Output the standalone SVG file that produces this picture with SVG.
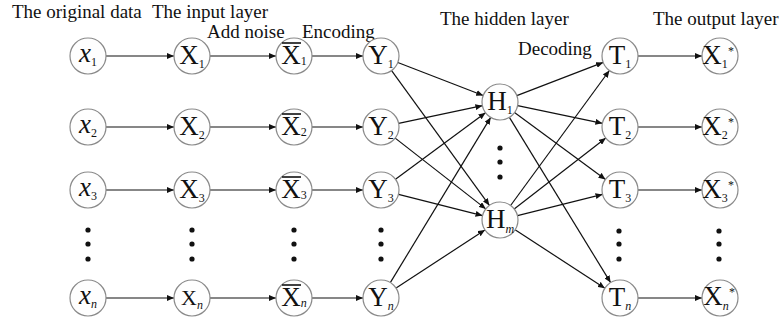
<svg xmlns="http://www.w3.org/2000/svg" width="780" height="326" viewBox="0 0 780 326">
<defs>
<marker id="ah" markerUnits="userSpaceOnUse" markerWidth="8" markerHeight="6" refX="7" refY="3" orient="auto">
<path d="M0,0 L7,3 L0,6 z" fill="#111"/>
</marker>
<style>
.n{fill:#fefefe;stroke:#8a8a8a;stroke-width:1.2}
.e{stroke:#111;stroke-width:1.2;fill:none;marker-end:url(#ah)}
.h{font-family:"Liberation Serif","Times New Roman",serif;font-size:19px;fill:#111}
.l{font-family:"Liberation Serif","Times New Roman",serif;font-size:27px;fill:#111;text-anchor:middle}
.i{font-style:italic}
.s{font-size:12px}
.d{fill:#111}
.ob{stroke:#111;stroke-width:1.6}
</style>
</defs>

<g id="headings">
<text class="h" x="12" y="18">The original data</text>
<text class="h" x="152" y="18">The input layer</text>
<text class="h" x="207" y="38">Add noise</text>
<text class="h" x="302" y="38">Encoding</text>
<text class="h" x="440" y="25">The hidden layer</text>
<text class="h" x="653" y="25">The output layer</text>
<text class="h" x="518" y="55">Decoding</text>
</g>

<g id="connectors">
<line class="e" x1="106" y1="56" x2="174" y2="56"/>
<line class="e" x1="210" y1="56" x2="276" y2="56"/>
<line class="e" x1="312" y1="56" x2="363" y2="56"/>
<line class="e" x1="638" y1="56" x2="702" y2="56"/>
<line class="e" x1="106" y1="127" x2="174" y2="127"/>
<line class="e" x1="210" y1="127" x2="276" y2="127"/>
<line class="e" x1="312" y1="127" x2="363" y2="127"/>
<line class="e" x1="638" y1="127" x2="702" y2="127"/>
<line class="e" x1="106" y1="190" x2="174" y2="190"/>
<line class="e" x1="210" y1="190" x2="276" y2="190"/>
<line class="e" x1="312" y1="190" x2="363" y2="190"/>
<line class="e" x1="638" y1="190" x2="702" y2="190"/>
<line class="e" x1="106" y1="298" x2="174" y2="298"/>
<line class="e" x1="210" y1="298" x2="276" y2="298"/>
<line class="e" x1="312" y1="298" x2="363" y2="298"/>
<line class="e" x1="638" y1="298" x2="702" y2="298"/>
<line class="e" x1="397.8" y1="62.5" x2="483.2" y2="95.5"/>
<line class="e" x1="391.6" y1="70.6" x2="489.4" y2="205.4"/>
<line class="e" x1="398.6" y1="123.3" x2="482.4" y2="105.7"/>
<line class="e" x1="395.2" y1="138.1" x2="485.8" y2="208.9"/>
<line class="e" x1="395.5" y1="179.3" x2="485.5" y2="112.7"/>
<line class="e" x1="398.5" y1="194.4" x2="482.5" y2="215.6"/>
<line class="e" x1="390.3" y1="282.6" x2="490.7" y2="117.4"/>
<line class="e" x1="396.1" y1="288.1" x2="484.9" y2="229.9"/>
<line class="e" x1="516.8" y1="95.6" x2="603.2" y2="62.4"/>
<line class="e" x1="517.6" y1="105.7" x2="602.4" y2="123.3"/>
<line class="e" x1="514.5" y1="112.6" x2="605.5" y2="179.4"/>
<line class="e" x1="509.4" y1="117.4" x2="610.6" y2="282.6"/>
<line class="e" x1="510.6" y1="205.5" x2="609.4" y2="70.5"/>
<line class="e" x1="514.2" y1="209.0" x2="605.8" y2="138.0"/>
<line class="e" x1="517.5" y1="215.6" x2="602.5" y2="194.4"/>
<line class="e" x1="515.1" y1="229.8" x2="604.9" y2="288.2"/>
</g>

<g id="dots">
<circle class="d" cx="88" cy="230" r="2.6"/><circle class="d" cx="88" cy="244" r="2.6"/><circle class="d" cx="88" cy="259" r="2.6"/>
<circle class="d" cx="192" cy="230" r="2.6"/><circle class="d" cx="192" cy="244" r="2.6"/><circle class="d" cx="192" cy="259" r="2.6"/>
<circle class="d" cx="294" cy="230" r="2.6"/><circle class="d" cx="294" cy="244" r="2.6"/><circle class="d" cx="294" cy="259" r="2.6"/>
<circle class="d" cx="381" cy="230" r="2.6"/><circle class="d" cx="381" cy="244" r="2.6"/><circle class="d" cx="381" cy="259" r="2.6"/>
<circle class="d" cx="500" cy="148" r="2.6"/><circle class="d" cx="500" cy="162" r="2.6"/><circle class="d" cx="500" cy="177" r="2.6"/>
<circle class="d" cx="619" cy="231" r="2.6"/><circle class="d" cx="619" cy="244" r="2.6"/><circle class="d" cx="619" cy="259" r="2.6"/>
<circle class="d" cx="719" cy="231" r="2.6"/><circle class="d" cx="719" cy="244" r="2.6"/><circle class="d" cx="719" cy="259" r="2.6"/>
</g>

<g id="x1"><circle class="n" cx="88" cy="56" r="18"/><text class="l" x="88" y="62"><tspan class="i">x</tspan><tspan class="s" dy="4">1</tspan></text></g>
<g id="x2"><circle class="n" cx="88" cy="127" r="18"/><text class="l" x="88" y="133"><tspan class="i">x</tspan><tspan class="s" dy="4">2</tspan></text></g>
<g id="x3"><circle class="n" cx="88" cy="190" r="18"/><text class="l" x="88" y="196"><tspan class="i">x</tspan><tspan class="s" dy="4">3</tspan></text></g>
<g id="xn"><circle class="n" cx="88" cy="298" r="18"/><text class="l" x="88" y="304"><tspan class="i">x</tspan><tspan class="s i" dy="4">n</tspan></text></g>

<g id="X1"><circle class="n" cx="192" cy="56" r="18"/><text class="l" x="192" y="64">X<tspan class="s" dy="4">1</tspan></text></g>
<g id="X2"><circle class="n" cx="192" cy="127" r="18"/><text class="l" x="192" y="135">X<tspan class="s" dy="4">2</tspan></text></g>
<g id="X3"><circle class="n" cx="192" cy="190" r="18"/><text class="l" x="192" y="198">X<tspan class="s" dy="4">3</tspan></text></g>
<g id="Xn"><circle class="n" cx="192" cy="298" r="18"/><text class="l" x="192" y="305" style="font-size:22px">X<tspan class="s i" dy="4">n</tspan></text></g>

<g id="Xb1"><circle class="n" cx="294" cy="56" r="18"/><line class="ob" x1="282" y1="43" x2="301" y2="43"/><text class="l" x="294" y="64">X<tspan class="s" dy="1">1</tspan></text></g>
<g id="Xb2"><circle class="n" cx="294" cy="127" r="18"/><line class="ob" x1="282" y1="114" x2="301" y2="114"/><text class="l" x="294" y="135">X<tspan class="s" dy="1">2</tspan></text></g>
<g id="Xb3"><circle class="n" cx="294" cy="190" r="18"/><line class="ob" x1="282" y1="177" x2="301" y2="177"/><text class="l" x="294" y="198">X<tspan class="s" dy="1">3</tspan></text></g>
<g id="Xbn"><circle class="n" cx="294" cy="298" r="18"/><line class="ob" x1="282" y1="285" x2="301" y2="285"/><text class="l" x="294" y="306">X<tspan class="s i" dy="1">n</tspan></text></g>

<g id="Y1"><circle class="n" cx="381" cy="56" r="18"/><text class="l" x="381" y="64">Y<tspan class="s" dy="4">1</tspan></text></g>
<g id="Y2"><circle class="n" cx="381" cy="127" r="18"/><text class="l" x="381" y="135">Y<tspan class="s" dy="4">2</tspan></text></g>
<g id="Y3"><circle class="n" cx="381" cy="190" r="18"/><text class="l" x="381" y="198">Y<tspan class="s" dy="4">3</tspan></text></g>
<g id="Yn"><circle class="n" cx="381" cy="298" r="18"/><text class="l" x="381" y="306">Y<tspan class="s i" dy="4">n</tspan></text></g>

<g id="H1"><circle class="n" cx="500" cy="102" r="18"/><text class="l" x="500" y="110">H<tspan class="s" dy="4">1</tspan></text></g>
<g id="Hm"><circle class="n" cx="500" cy="220" r="18"/><text class="l" x="500" y="228">H<tspan class="s i" dy="5">m</tspan></text></g>

<g id="T1"><circle class="n" cx="620" cy="56" r="18"/><text class="l" x="620" y="64">T<tspan class="s" dy="4">1</tspan></text></g>
<g id="T2"><circle class="n" cx="620" cy="127" r="18"/><text class="l" x="620" y="135">T<tspan class="s" dy="4">2</tspan></text></g>
<g id="T3"><circle class="n" cx="620" cy="190" r="18"/><text class="l" x="620" y="198">T<tspan class="s" dy="4">3</tspan></text></g>
<g id="Tn"><circle class="n" cx="620" cy="298" r="18"/><text class="l" x="620" y="306">T<tspan class="s i" dy="4">n</tspan></text></g>

<g id="O1"><circle class="n" cx="720" cy="56" r="18"/><text class="l" x="715" y="64">X<tspan class="s" dy="4">1</tspan></text><text class="l s" x="731" y="55">*</text></g>
<g id="O2"><circle class="n" cx="720" cy="127" r="18"/><text class="l" x="715" y="135">X<tspan class="s" dy="4">2</tspan></text><text class="l s" x="731" y="126">*</text></g>
<g id="O3"><circle class="n" cx="720" cy="190" r="18"/><text class="l" x="715" y="198">X<tspan class="s" dy="4">3</tspan></text><text class="l s" x="731" y="189">*</text></g>
<g id="On"><circle class="n" cx="720" cy="298" r="18"/><text class="l" x="716" y="305">X<tspan class="s i" dy="5">n</tspan></text><text class="l s" x="732" y="296">*</text></g>
</svg>
